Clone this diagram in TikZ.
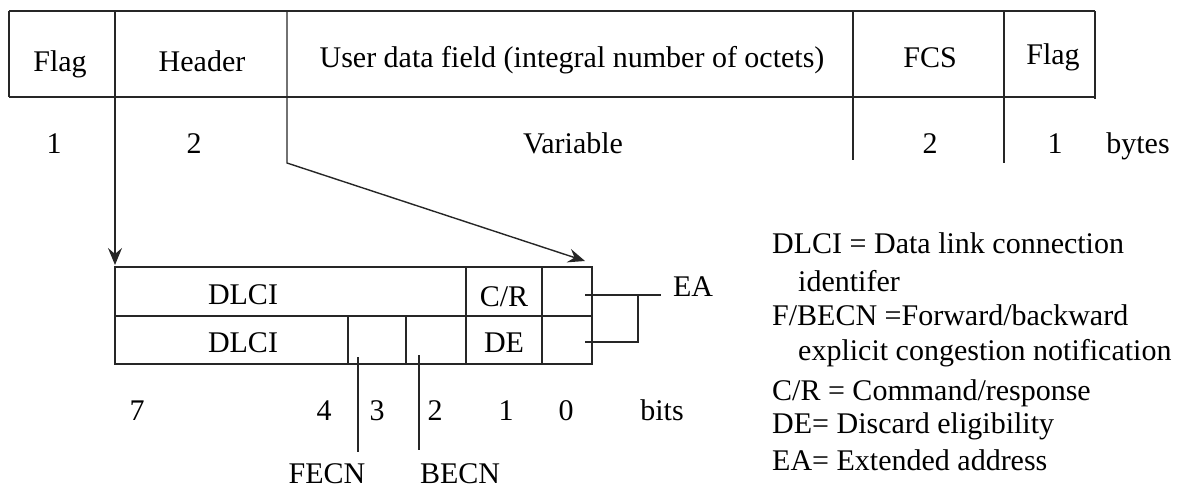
\documentclass[tikz,border=0pt]{standalone}
\usepackage{fontspec}
\setmainfont{Liberation Serif}
\usetikzlibrary{arrows.meta}
\begin{document}
\begin{tikzpicture}[x=1pt,y=-1pt,
  rule/.style={line width=1.4pt, black!85},
  lbl/.style={inner sep=0pt, anchor=base, font=\fontsize{30}{36}\selectfont},
  leg/.style={inner sep=0pt, anchor=base west, font=\fontsize{30}{36}\selectfont},
  tip/.style={-{Stealth[length=17pt,width=14pt,inset=6pt]}}]
\useasboundingbox (0,0) rectangle (1180,488);

% ---- frame layout table ----
\draw[rule] (9,11) -- (1095,11);
\draw[rule] (9,97) -- (1095,97);
\draw[rule] (9,11) -- (9,97);
\draw[rule] (1095,11) -- (1095,99);
\draw[rule] (853,11) -- (853,160);
\draw[rule] (1004,11) -- (1004,163);

\node[lbl] (flagA)  at (60,71)   {Flag};
\node[lbl] (header) at (202,71)  {Header};
\node[lbl] (user)   at (572,67)  {User data field (integral number of octets)};
\node[lbl] (fcs)    at (930,67)  {FCS};
\node[lbl] (flagB)  at (1053,64) {Flag};

\node[lbl] (nFlagA)  at (54,153)   {1};
\node[lbl] (nHeader) at (194,153)  {2};
\node[lbl] (nUser)   at (573,153)  {Variable};
\node[lbl] (nFcs)    at (930,153)  {2};
\node[lbl] (nFlagB)  at (1055,153) {1};
\node[lbl] (bytes)   at (1138,153) {bytes};

% ---- expansion of the header ----
\coordinate (hdrL)   at (115,11);
\coordinate (hdrLend) at (115,265);
\coordinate (hdrR)   at (287,11);
\coordinate (hdrRbend) at (287,163);
\coordinate (hdrRend) at (585,261);
\draw[rule,tip] (hdrL) -- (hdrLend);
\draw[rule,tip] (hdrR) -- (hdrRbend) -- (hdrRend);

% ---- address field (two octets) ----
\draw[rule] (115,267) rectangle (592,364);
\draw[rule] (115,316) -- (592,316);
\draw[rule] (466,267) -- (466,364);
\draw[rule] (542,267) -- (542,364);
\draw[rule] (348,316) -- (348,364);
\draw[rule] (406,316) -- (406,364);

\node[lbl] (dlciA) at (243,304) {DLCI};
\node[lbl] (cr)    at (504,306) {C/R};
\node[lbl] (dlciB) at (243,352) {DLCI};
\node[lbl] (de)    at (504,352) {DE};

% EA bracket
\coordinate (eaA) at (585,295);
\coordinate (eaB) at (585,342);
\coordinate (eaJ) at (638,295);
\coordinate (eaE) at (661,295);
\draw[rule] (eaA) -- (eaE);
\draw[rule] (eaB) -- (638,342) -- (eaJ);
\node[lbl] (ea) at (693,296) {EA};

% bit numbers
\node[lbl] (b7) at (137,420) {7};
\node[lbl] (b4) at (324,420) {4};
\node[lbl] (b3) at (377,420) {3};
\node[lbl] (b2) at (435,420) {2};
\node[lbl] (b1) at (506,420) {1};
\node[lbl] (b0) at (566,420) {0};
\node[lbl] (bits) at (662,420) {bits};

% congestion bit leaders
\node[lbl] (fecn) at (327,483) {FECN};
\node[lbl] (becn) at (460,483) {BECN};
\coordinate (fecnTop) at (358,357);
\coordinate (becnTop) at (419,355);
\draw[rule] (fecnTop) -- (358,452);
\draw[rule] (becnTop) -- (419,450);

% ---- legend ----
\node[leg] (l1) at (772,253) {DLCI = Data link connection};
\node[leg] (l2) at (798,291) {identifer};
\node[leg] (l3) at (772,325) {F/BECN =Forward/backward};
\node[leg] (l4) at (798,360) {explicit congestion notification};
\node[leg] (l5) at (772,400) {C/R = Command/response};
\node[leg] (l6) at (772,433) {DE= Discard eligibility};
\node[leg] (l7) at (772,470) {EA= Extended address};
\end{tikzpicture}
\end{document}
